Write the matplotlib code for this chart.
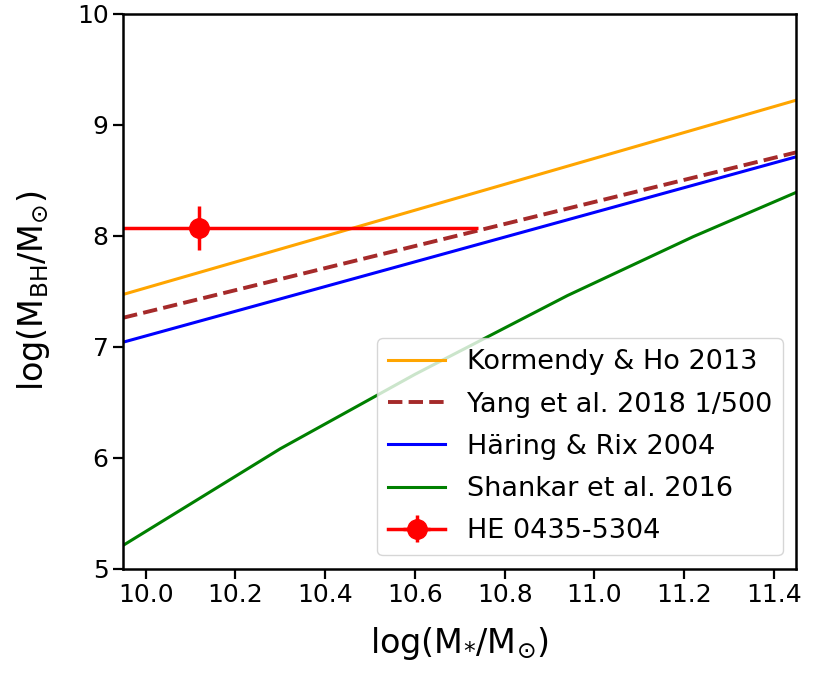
import matplotlib
matplotlib.use("Agg")
import matplotlib.pyplot as plt

# Relation endpoints / samples
kh_x = [9.95, 11.45]
kh_y = [7.47, 9.22]
yang_x = [9.95, 11.45]
yang_y = [7.26, 8.75]
hr_x = [9.95, 11.45]
hr_y = [7.04, 8.71]
sh_x = [9.95, 10.30, 10.60, 10.94, 11.22, 11.45]
sh_y = [5.21, 6.08, 6.75, 7.46, 7.99, 8.39]

obj_x = [10.12]
obj_y = [8.07]
obj_xerr = [0.62]
obj_yerr = [0.20]

xticks = [10.0, 10.2, 10.4, 10.6, 10.8, 11.0, 11.2, 11.4]
yticks = [5, 6, 7, 8, 9, 10]

fig = plt.figure(figsize=(8.21, 6.77), dpi=100)
ax = fig.add_axes([0.150, 0.160, 0.820, 0.820])

lw = 2.2
ax.plot(kh_x, kh_y, color='orange', lw=lw, label='Kormendy & Ho 2013')
ax.plot(yang_x, yang_y, color='brown', lw=lw + 0.6, ls='--', label='Yang et al. 2018 1/500')
ax.plot(hr_x, hr_y, color='blue', lw=lw, label='Häring & Rix 2004')
ax.plot(sh_x, sh_y, color='green', lw=lw, label='Shankar et al. 2016')
ax.errorbar(obj_x, obj_y, xerr=obj_xerr, yerr=obj_yerr, fmt='-o', color='red',
            ms=14, lw=lw + 0.3, capsize=0, label='HE 0435-5304')

ax.set_xlim(9.95, 11.45)
ax.set_ylim(5, 10)
ax.set_xticks(xticks)
ax.set_xticklabels([f'{v:.1f}' for v in xticks])
ax.set_yticks(yticks)
ax.tick_params(labelsize=18, width=1.6, length=7)
for s in ax.spines.values():
    s.set_linewidth(1.8)

ax.set_xlabel(r'log(M$_{*}$/M$_{\odot}$)', fontsize=24, labelpad=13)
ax.set_ylabel(r'log(M$_{\rm BH}$/M$_{\odot}$)', fontsize=24, labelpad=18)

leg = ax.legend(loc='lower right', fontsize=19.5, handlelength=2.1, borderpad=0.4,
                labelspacing=0.6, framealpha=0.8, borderaxespad=0.5)

fig.savefig('out.png', dpi=100)
